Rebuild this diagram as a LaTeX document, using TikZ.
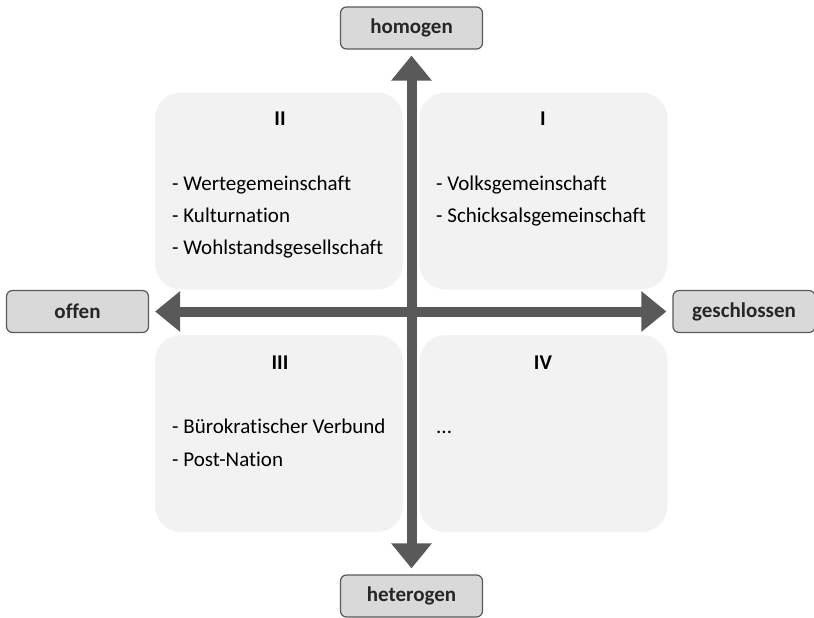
\documentclass[tikz,border=0pt]{standalone}
\usepackage{fontspec}
\setmainfont{Carlito}[Ligatures=NoCommon]
\usetikzlibrary{arrows.meta}
\definecolor{axisgray}{HTML}{595959}
\definecolor{labelfill}{HTML}{D9D9D9}
\definecolor{quadfill}{HTML}{F2F2F2}
\begin{document}
\begin{tikzpicture}[x=1pt,y=-1pt,
  labelbox/.style={draw=axisgray,line width=1.2pt,fill=labelfill,rounded corners=6pt,
    minimum width=142pt,minimum height=42pt,inner sep=0pt,font=\fontsize{21}{24}\selectfont\bfseries,text=black!85},
  quadbox/.style={fill=quadfill,rounded corners=26pt,minimum width=248pt,minimum height=197pt,inner sep=0pt},
  numeral/.style={font=\fontsize{21}{24}\selectfont\bfseries,anchor=base,inner sep=0pt},
  item/.style={font=\fontsize{21}{24}\selectfont,anchor=base west,inner sep=0pt},
  bigarrow/.style={draw=axisgray,line width=10pt,{Triangle[width=39pt,length=25pt]}-{Triangle[width=39pt,length=25pt]},shorten <=6pt,shorten >=6pt}]
\useasboundingbox (0,0) rectangle (814,618);
% quadrants
\node[quadbox] (q2) at (279,191) {};
\node[quadbox] (q1) at (543.5,191) {};
\node[quadbox] (q3) at (279,433.5) {};
\node[quadbox] (q4) at (543.5,433.5) {};
% labels
\node[labelbox] (homogen) at (411.5,28) {homogen};
\node[labelbox] (heterogen) at (411.5,596) {heterogen};
\node[labelbox] (offen) at (77.5,311.5) {offen};
\node[labelbox] (geschlossen) at (744,311.5) {geschlossen};
% axes
\draw[bigarrow] (homogen.south) -- (heterogen.north);
\draw[bigarrow] (offen.east) -- (geschlossen.west);
% texts
\node[numeral] (n2) at (280,125) {II};
\node[numeral] (n1) at (543,125) {I};
\node[numeral] (n3) at (280,369) {III};
\node[numeral] (n4) at (543,369) {IV};
\node[item] (t21) at (172,190) {- Wertegemeinschaft};
\node[item] (t22) at (172,222) {- Kulturnation};
\node[item] (t23) at (172,254) {- Wohlstandsgesellschaft};
\node[item] (t11) at (436,190) {- Volksgemeinschaft};
\node[item] (t12) at (436,222) {- Schicksalsgemeinschaft};
\node[item] (t31) at (172,433) {- Bürokratischer Verbund};
\node[item] (t32) at (172,466) {- Post-Nation};
\node[item] (t41) at (436,433) {...};
\end{tikzpicture}
\end{document}
